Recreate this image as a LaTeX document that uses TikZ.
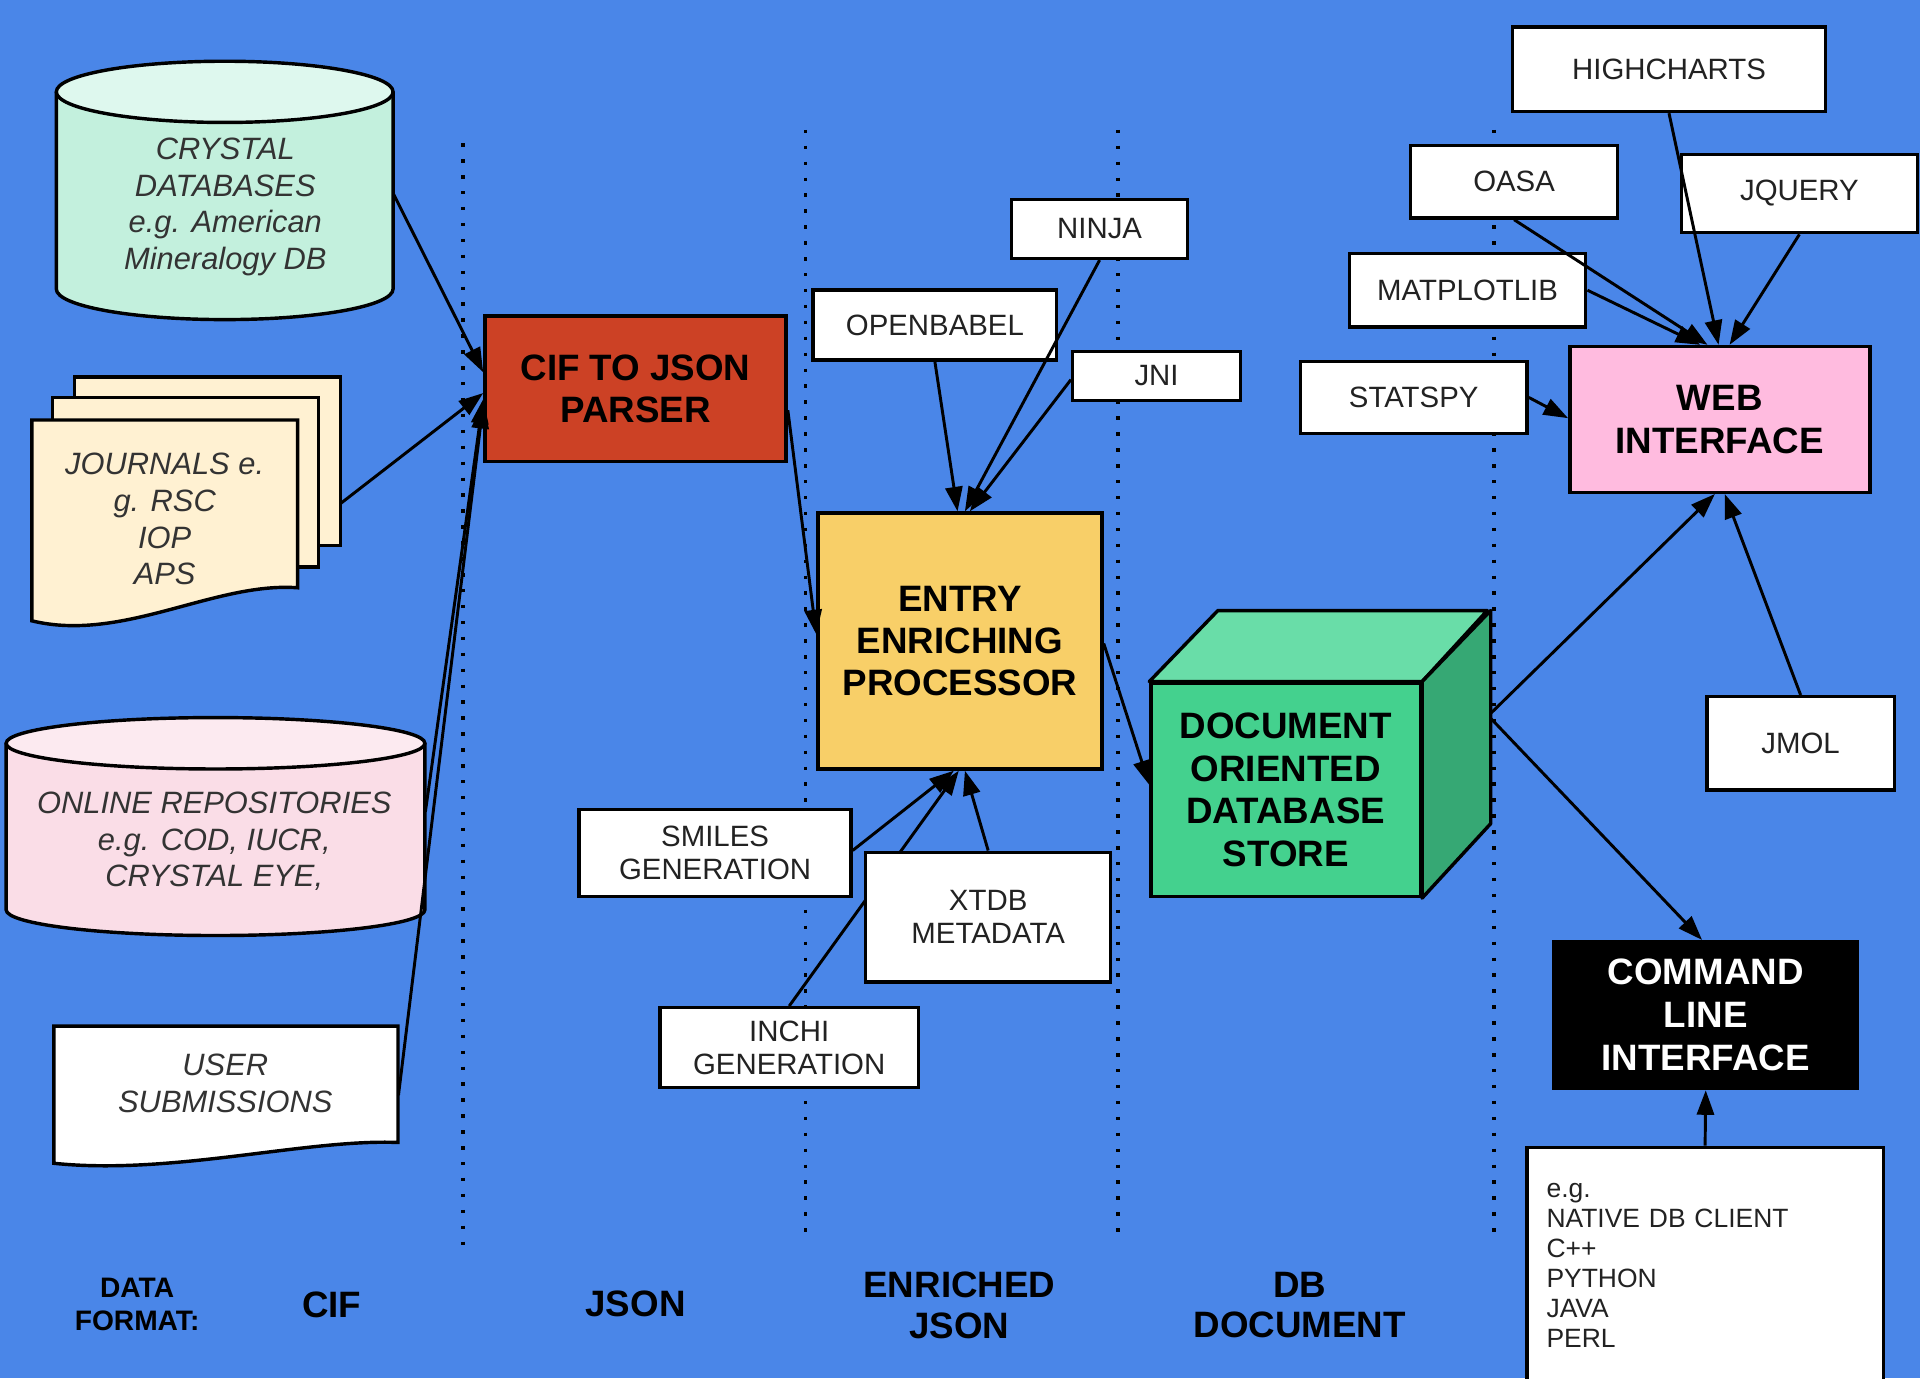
\documentclass[tikz,border=0pt]{standalone}
\usepackage{fontspec}
\setmainfont{Liberation Sans}
\usetikzlibrary{arrows.meta}
\definecolor{bg}{HTML}{4A86E8}
\definecolor{parserc}{HTML}{CC4125}
\definecolor{procc}{HTML}{F8CF68}
\definecolor{webc}{HTML}{FFBBDF}
\definecolor{cubef}{HTML}{44D18E}
\definecolor{cubet}{HTML}{69DDA8}
\definecolor{cubes}{HTML}{36A874}
\definecolor{cdbbody}{HTML}{C3F0DD}
\definecolor{cdbtop}{HTML}{DEF8EE}
\definecolor{orbody}{HTML}{FADDE7}
\definecolor{ortop}{HTML}{FCEAF0}
\definecolor{jr}{HTML}{FFF1D2}
\definecolor{itx}{HTML}{333333}
\definecolor{txt}{HTML}{222222}
\tikzset{
 wbox/.style={draw=black, line width=1.4pt, fill=white, text=txt, align=center, inner sep=0pt, font=\fontsize{12}{13.6}\selectfont},
 bbox/.style={draw=black, line width=1.4pt, align=center, inner sep=0pt, font=\fontsize{15}{17.3}\selectfont\bfseries},
 itxt/.style={text=itx, align=center, inner sep=0pt, font=\fontsize{12.6}{15}\selectfont\itshape},
 area/.style={inner sep=0pt},
 arr/.style={-{Triangle[length=10pt,width=7pt]}, line width=1.2pt, draw=black},
 dotline/.style={line width=1.4pt, dash pattern=on 1.4pt off 5.1pt, draw=black},
 lbl/.style={font=\fontsize{15}{16.5}\selectfont\bfseries, align=center, inner sep=0pt},
 outl/.style={draw=black, line width=1.4pt},
}
\begin{document}
\begin{tikzpicture}[x=0.5pt,y=-0.5pt]
\useasboundingbox (0,0) rectangle (1568,1125.4);
\fill[bg] (0,0) rectangle (1568,1125.4);
% dotted separators
\draw[dotline] (378,117) -- (378,1020);
\draw[dotline] (658,106) -- (658,1009);
\draw[dotline] (913,106) -- (913,1009);
\draw[dotline] (1220,106) -- (1220,1009);
% crystal databases cylinder
\draw[outl, fill=cdbbody] (46,75) -- (46,236) arc[start angle=180, end angle=0, x radius=137.5, y radius=25] -- (321,75);
\draw[outl, fill=cdbtop] (183.5,75) ellipse [x radius=137.5, y radius=25];
\node[area, minimum width=137.5pt, minimum height=105.5pt] (cdb) at (183.5,155.5) {};
\node[itxt] (cdbt) at (184,169) {CRYSTAL\\DATABASES\\e.g. American\\Mineralogy DB};
% journals stack
\draw[outl, fill=jr] (61,308) rectangle (278,445.5);
\draw[outl, fill=jr] (43,324.5) rectangle (260,463);
\draw[outl, fill=jr] (26,343) -- (243,343) -- (243,480) .. controls (175,475) and (100,525) .. (26,507) -- cycle;
\node[area, minimum width=126pt, minimum height=103pt] (jour) at (152,411) {};
\node[itxt] (jourt) at (134.5,424) {JOURNALS e.\\g. RSC\\IOP\\APS};
% online repositories cylinder
\draw[outl, fill=orbody] (5,607) -- (5,743) arc[start angle=180, end angle=0, x radius=171, y radius=21] -- (347,607);
\draw[outl, fill=ortop] (176,607) ellipse [x radius=171, y radius=21];
\node[area, minimum width=171pt, minimum height=89pt] (orep) at (176,675) {};
\node[itxt] (orept) at (175,687) {ONLINE REPOSITORIES\\e.g. COD, IUCR,\\CRYSTAL EYE,};
% user submissions
\draw[outl, fill=white] (44,838) -- (325,838) -- (325,933) .. controls (250,930) and (140,960) .. (44,950) -- cycle;
\node[area, minimum width=140.5pt, minimum height=58.5pt] (usub) at (184.5,896.5) {};
\node[itxt] (usubt) at (184,885) {USER\\SUBMISSIONS};
% boxes
\node[bbox, fill=parserc, minimum width=123pt, minimum height=59.5pt] (parser) at (519,317.5) {CIF TO JSON\\PARSER};
\node[bbox, fill=procc, minimum width=116pt, minimum height=104.5pt] (proc) at (784,523.5) {ENTRY\\ENRICHING\\PROCESSOR};
\node[wbox, minimum width=99.5pt, minimum height=28.5pt] (openbabel) at (763.5,265.5) {OPENBABEL};
\node[wbox, minimum width=72pt, minimum height=24pt] (ninja) at (898,187) {NINJA};
\node[wbox, minimum width=68.5pt, minimum height=20pt] (jni) at (944.5,307) {JNI};
\node[wbox, minimum width=128pt, minimum height=34.5pt] (highcharts) at (1363,56.5) {HIGHCHARTS};
\node[wbox, minimum width=84.5pt, minimum height=29.5pt] (oasa) at (1236.5,148.5) {OASA};
\node[wbox, minimum width=96.5pt, minimum height=32pt] (jquery) at (1469.5,158) {JQUERY};
\node[wbox, minimum width=96.5pt, minimum height=30pt] (matplotlib) at (1198.5,237) {MATPLOTLIB};
\node[wbox, minimum width=92.5pt, minimum height=29.5pt] (statspy) at (1154.5,324.5) {STATSPY};
\node[bbox, fill=webc, minimum width=122.5pt, minimum height=59.5pt] (web) at (1404.5,342.5) {WEB\\INTERFACE};
\node[wbox, minimum width=76.5pt, minimum height=38pt] (jmol) at (1470.5,607) {JMOL};
\node[bbox, fill=black, text=white, minimum width=124pt, minimum height=60pt, font=\fontsize{15}{17.5}\selectfont\bfseries] (cli) at (1393,829) {COMMAND\\LINE\\INTERFACE};
\node[wbox, align=left, text width=129.5pt, inner xsep=8pt, minimum height=96.5pt, font=\fontsize{10.8}{12.3}\selectfont] (eg) at (1392.5,1033.5) {e.g.\\NATIVE DB CLIENT\\C++\\PYTHON\\JAVA\\PERL};
\node[wbox, minimum width=111pt, minimum height=35.5pt] (smiles) at (584,696.5) {SMILES\\GENERATION};
\node[wbox, minimum width=105.5pt, minimum height=32.5pt] (inchi) at (644.5,855.5) {INCHI\\GENERATION};
% cube
\node[bbox, fill=cubef, minimum width=110pt, minimum height=87pt, font=\fontsize{15}{17.5}\selectfont\bfseries] (cube) at (1050,645) {DOCUMENT\\ORIENTED\\DATABASE\\STORE};
\draw[outl, fill=cubet, line join=round] (cube.north west) -- ++(56,-58) -- ++(220,0) -- (cube.north east) -- cycle;
\draw[outl, fill=cubes, line join=round] (cube.north east) -- ++(56,-58) -- ++(0,174) -- (cube.south east) -- cycle;
% inchi arrow passes behind xtdb
\draw[arr] (inchi.north) -- ([shift={(-1,0)}]proc.south);
\node[wbox, minimum width=100pt, minimum height=53pt] (xtdb) at (807,749) {XTDB\\METADATA};
% arrows
\draw[arr] ([shift={(0,3)}]cdb.east) -- ([shift={(0,-13.5)}]parser.west);
\draw[arr] (jour.east) -- ([shift={(0,3.5)}]parser.west);
\draw[arr] ([shift={(0,-12)}]orep.east) -- ([shift={(0,8.5)}]parser.west);
\draw[arr] ([shift={(0,-2)}]usub.east) -- ([shift={(0,12.5)}]parser.west);
\draw[arr] ([shift={(0,17.5)}]parser.east) -- ([shift={(0,-5.5)}]proc.west);
\draw[arr] (openbabel.south) -- ([shift={(-2,0)}]proc.north);
\draw[arr] (ninja.south) -- ([shift={(4,0)}]proc.north);
\draw[arr] ([shift={(0,3)}]jni.west) -- ([shift={(8,0)}]proc.north);
\draw[arr] ([shift={(0,-2)}]smiles.east) -- ([shift={(-5,0)}]proc.south);
\draw[arr] (xtdb.north) -- ([shift={(4,0)}]proc.south);
\draw[arr] ([shift={(0,2)}]proc.east) -- ([shift={(0,-4)}]cube.west);
\draw[arr] (highcharts.south) -- ([shift={(-1,0)}]web.north);
\draw[arr] (oasa.south) -- ([shift={(-10,0)}]web.north);
\draw[arr] (matplotlib.east) -- ([shift={(-16,0)}]web.north);
\draw[arr] (jquery.south) -- ([shift={(8,0)}]web.north);
\draw[arr] (statspy.east) -- ([shift={(0,-1)}]web.west);
\draw[arr] ([shift={(56,26)}]cube.north east) -- ([shift={(-4,0)}]web.south);
\draw[arr] (jmol.north) -- ([shift={(4,0)}]web.south);
\draw[arr] ([shift={(56,30)}]cube.north east) -- ([shift={(-3,0)}]cli.north);
\draw[arr] (eg.north) -- (cli.south);
% bottom labels
\node[lbl, font=\fontsize{11.5}{13.5}\selectfont\bfseries] (df) at (112,1065.5) {DATA\\FORMAT:};
\node[lbl] (fcif) at (271,1065.5) {CIF};
\node[lbl] (fjson) at (519,1065) {JSON};
\node[lbl] (fejson) at (783.5,1066) {ENRICHED\\JSON};
\node[lbl] (fdb) at (1061.5,1066) {DB\\DOCUMENT};
\end{tikzpicture}
\end{document}
